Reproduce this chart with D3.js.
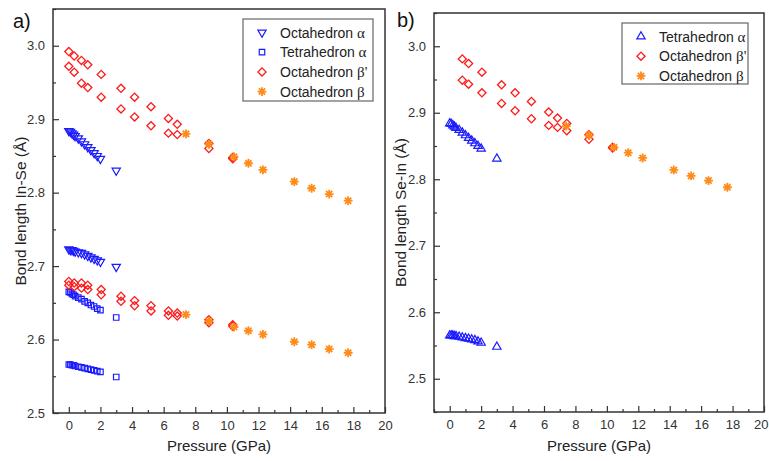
<!DOCTYPE html>
<html>
<head>
<meta charset="utf-8">
<script src="https://cdn.jsdelivr.net/npm/d3@7"></script>
<style>
body { margin: 0; background: #fff; }
text { font-family: "Liberation Sans", Arial, sans-serif; }
</style>
</head>
<body>
<script>
// Pressure values (GPa)
var pressureAlpha = [0, 0.1, 0.2, 0.3, 0.4, 0.6, 0.8, 1.0, 1.2, 1.4, 1.6, 1.8, 2.0, 3.0];
var pressureBetaPrimeA = [0, 0.34, 0.8, 1.2, 2.05, 3.3, 4.16, 5.2, 6.3, 6.86, 8.86, 10.37];
var pressureBetaPrimeB = [0.8, 1.2, 2.05, 3.3, 4.16, 5.2, 6.3, 6.86, 7.45, 8.86, 10.37];
var pressureBeta = [7.41, 8.86, 10.45, 11.36, 12.28, 14.26, 15.36, 16.47, 17.67];

// panel a) In-Se bond lengths
var octAlphaUpper = [2.884, 2.883, 2.881, 2.879, 2.877, 2.874, 2.870, 2.866, 2.862, 2.858, 2.854, 2.850, 2.846, 2.830];
var octAlphaLower = [2.723, 2.722, 2.722, 2.721, 2.720, 2.719, 2.718, 2.716, 2.714, 2.712, 2.710, 2.708, 2.706, 2.699];
var tetAlphaUpper = [2.665, 2.664, 2.662, 2.661, 2.659, 2.657, 2.655, 2.652, 2.650, 2.647, 2.645, 2.642, 2.640, 2.630];
var tetAlphaLower = [2.566, 2.566, 2.565, 2.565, 2.564, 2.563, 2.562, 2.561, 2.560, 2.559, 2.558, 2.557, 2.556, 2.549];
var octBetaPrimeA1 = [2.992, 2.986, 2.980, 2.974, 2.961, 2.942, 2.930, 2.917, 2.901, 2.893, 2.867, 2.848];
var octBetaPrimeA2 = [2.972, 2.964, 2.949, 2.943, 2.930, 2.914, 2.903, 2.891, 2.881, 2.879, 2.860, 2.846];
var octBetaPrimeA3 = [2.679, 2.677, 2.677, 2.674, 2.668, 2.659, 2.653, 2.646, 2.639, 2.636, 2.627, 2.620];
var octBetaPrimeA4 = [2.674, 2.672, 2.670, 2.668, 2.661, 2.652, 2.646, 2.639, 2.633, 2.632, 2.623, 2.618];
var octBetaUpper = [2.880, 2.866, 2.849, 2.840, 2.831, 2.815, 2.806, 2.798, 2.789];
var octBetaLower = [2.634, 2.625, 2.617, 2.612, 2.607, 2.597, 2.593, 2.587, 2.582];

// panel b) Se-In bond lengths
var tetAlphaB1 = [2.884, 2.883, 2.881, 2.879, 2.877, 2.874, 2.870, 2.866, 2.862, 2.858, 2.854, 2.850, 2.846, 2.831];
var tetAlphaB2 = [2.565, 2.565, 2.565, 2.564, 2.564, 2.563, 2.562, 2.561, 2.560, 2.559, 2.558, 2.556, 2.554, 2.548];
var octBetaPrimeB1 = [2.981, 2.974, 2.961, 2.942, 2.930, 2.917, 2.901, 2.892, 2.884, 2.867, 2.848];
var octBetaPrimeB2 = [2.949, 2.943, 2.930, 2.914, 2.903, 2.891, 2.881, 2.878, 2.873, 2.860, 2.847];
var octBetaB = [2.880, 2.866, 2.848, 2.840, 2.832, 2.814, 2.805, 2.798, 2.788];

var xTicks = [0, 2, 4, 6, 8, 10, 12, 14, 16, 18, 20];
var yTicks = [2.5, 2.6, 2.7, 2.8, 2.9, 3.0];

var blue = "#1a1aff", red = "#ff1a1a", orange = "#ff8c1a";

// 8-arm asterisk like Origin's star marker
var star = {
  draw: function(ctx, size) {
    var r = Math.sqrt(size) / 2, d = r * 0.7071;
    ctx.moveTo(-r, 0); ctx.lineTo(r, 0);
    ctx.moveTo(0, -r); ctx.lineTo(0, r);
    ctx.moveTo(-d, -d); ctx.lineTo(d, d);
    ctx.moveTo(-d, d); ctx.lineTo(d, -d);
  }
};

var markers = {
  down: { path: d3.symbol(d3.symbolTriangle, 30)(), rot: 180, color: blue, width: 1.2 },
  up: { path: d3.symbol(d3.symbolTriangle, 30)(), rot: 0, color: blue, width: 1.2 },
  square: { path: d3.symbol(d3.symbolSquare, 30)(), rot: 0, color: blue, width: 1.2 },
  diamond: { path: d3.symbol(d3.symbolSquare, 33)(), rot: 45, color: red, width: 1.3 },
  star: { path: d3.symbol(star, 78)(), rot: 0, color: orange, width: 1.8 }
};

var svg = d3.select("body").append("svg")
  .attr("width", 769)
  .attr("height", 461);

function drawPanel(p) {
  var x = d3.scaleLinear().domain([-1, 20]).range([p.left, p.right]);
  var y = d3.scaleLinear().domain(p.yDomain).range([p.bottom, p.top]);
  var g = svg.append("g");

  // minor ticks
  var xMinor = d3.range(-1, 20, 2);
  var yMinor = d3.range(p.yDomain[0], p.yDomain[1] + 0.001, 0.05).filter(function(v) {
    return Math.abs(Math.round(v * 10) - v * 10) > 0.01;
  });

  g.append("g")
    .attr("transform", "translate(0," + p.bottom + ")")
    .call(d3.axisBottom(x).tickValues(xMinor).tickSize(-3).tickSizeOuter(0).tickFormat(""))
    .call(function(a) { a.select(".domain").remove(); });
  g.append("g")
    .attr("transform", "translate(" + p.left + ",0)")
    .call(d3.axisLeft(y).tickValues(yMinor).tickSize(-3).tickSizeOuter(0).tickFormat(""))
    .call(function(a) { a.select(".domain").remove(); });

  var xAxis = g.append("g")
    .attr("transform", "translate(0," + p.bottom + ")")
    .call(d3.axisBottom(x).tickValues(xTicks).tickSize(-6).tickSizeOuter(0).tickPadding(8));
  var yAxis = g.append("g")
    .attr("transform", "translate(" + p.left + ",0)")
    .call(d3.axisLeft(y).tickValues(yTicks).tickSize(-6).tickSizeOuter(0).tickPadding(8)
      .tickFormat(d3.format(".1f")));

  [xAxis, yAxis].forEach(function(a) {
    a.select(".domain").remove();
    a.selectAll("text").attr("font-size", 13).attr("fill", "#333")
      .attr("font-family", "Liberation Sans, Arial, sans-serif");
  });
  // keep the last label of the right panel inside the window
  if (p.right > 760) {
    xAxis.selectAll(".tick text").filter(function(d) { return d === 20; })
      .attr("text-anchor", "end").attr("dx", 4);
  }
  g.selectAll(".tick line").attr("stroke", "#333").attr("stroke-width", 1.2);

  // frame
  g.append("rect")
    .attr("x", p.left).attr("y", p.top)
    .attr("width", p.right - p.left).attr("height", p.bottom - p.top)
    .attr("fill", "none").attr("stroke", "#333").attr("stroke-width", 1.5);

  // data
  p.series.forEach(function(s) {
    var m = markers[s.marker];
    g.append("g").selectAll("path")
      .data(d3.zip(s.x, s.y))
      .enter().append("path")
      .attr("d", m.path)
      .attr("transform", function(d) {
        return "translate(" + x(d[0]) + "," + y(d[1]) + ") rotate(" + m.rot + ")";
      })
      .attr("fill", "none")
      .attr("stroke", m.color)
      .attr("stroke-width", m.width);
  });

  // titles
  g.append("text")
    .attr("x", (p.left + p.right) / 2).attr("y", 451)
    .attr("text-anchor", "middle").attr("font-size", 15).attr("fill", "#222")
    .text("Pressure (GPa)");
  g.append("text")
    .attr("transform", "translate(" + p.yTitleX + "," + (p.top + p.bottom) / 2 + ") rotate(-90)")
    .attr("text-anchor", "middle").attr("font-size", 15.5).attr("fill", "#222")
    .text(p.yTitle);
  g.append("text")
    .attr("x", p.tagX).attr("y", p.tagY)
    .attr("font-size", 20).attr("fill", "#111")
    .text(p.tag);

  // legend
  var lg = g.append("g");
  lg.append("rect")
    .attr("x", p.legend.x).attr("y", p.legend.y)
    .attr("width", p.legend.w).attr("height", p.legend.h)
    .attr("fill", "#fff").attr("stroke", "#666").attr("stroke-width", 1.2);
  p.legend.items.forEach(function(it, i) {
    var m = markers[it.marker];
    var cy = p.legend.y + 13.5 + i * 19.7;
    lg.append("path")
      .attr("d", m.path)
      .attr("transform", "translate(" + (p.legend.x + 19) + "," + cy + ") rotate(" + m.rot + ")")
      .attr("fill", "none").attr("stroke", m.color).attr("stroke-width", m.width);
    var t = lg.append("text")
      .attr("x", p.legend.x + 37).attr("y", cy + 5)
      .attr("font-size", 14).attr("fill", "#222");
    t.append("tspan").text(it.label + " ");
    t.append("tspan").attr("font-family", "Liberation Serif, serif").attr("font-size", 15).text(it.greek);
  });
}

drawPanel({
  left: 53, right: 385, top: 9, bottom: 413,
  yDomain: [2.5, 3.05],
  yTitle: "Bond length In-Se (Å)", yTitleX: 26,
  tag: "a)", tagX: 13, tagY: 28,
  series: [
    { marker: "down", x: pressureAlpha, y: octAlphaUpper },
    { marker: "down", x: pressureAlpha, y: octAlphaLower },
    { marker: "square", x: pressureAlpha, y: tetAlphaUpper },
    { marker: "square", x: pressureAlpha, y: tetAlphaLower },
    { marker: "diamond", x: pressureBetaPrimeA, y: octBetaPrimeA1 },
    { marker: "diamond", x: pressureBetaPrimeA, y: octBetaPrimeA2 },
    { marker: "diamond", x: pressureBetaPrimeA, y: octBetaPrimeA3 },
    { marker: "diamond", x: pressureBetaPrimeA, y: octBetaPrimeA4 },
    { marker: "star", x: pressureBeta, y: octBetaUpper },
    { marker: "star", x: pressureBeta, y: octBetaLower }
  ],
  legend: {
    x: 243, y: 19, w: 130, h: 82,
    items: [
      { marker: "down", label: "Octahedron", greek: "α" },
      { marker: "square", label: "Tetrahedron", greek: "α" },
      { marker: "diamond", label: "Octahedron", greek: "β'" },
      { marker: "star", label: "Octahedron", greek: "β" }
    ]
  }
});

drawPanel({
  left: 434, right: 764, top: 13, bottom: 412,
  yDomain: [2.45, 3.05],
  yTitle: "Bond length Se-In (Å)", yTitleX: 406,
  tag: "b)", tagX: 397, tagY: 27,
  series: [
    { marker: "up", x: pressureAlpha, y: tetAlphaB1 },
    { marker: "up", x: pressureAlpha, y: tetAlphaB2 },
    { marker: "diamond", x: pressureBetaPrimeB, y: octBetaPrimeB1 },
    { marker: "diamond", x: pressureBetaPrimeB, y: octBetaPrimeB2 },
    { marker: "star", x: pressureBeta, y: octBetaB }
  ],
  legend: {
    x: 622, y: 23, w: 126, h: 61,
    items: [
      { marker: "up", label: "Tetrahedron", greek: "α" },
      { marker: "diamond", label: "Octahedron", greek: "β'" },
      { marker: "star", label: "Octahedron", greek: "β" }
    ]
  }
});
</script>
</body>
</html>
